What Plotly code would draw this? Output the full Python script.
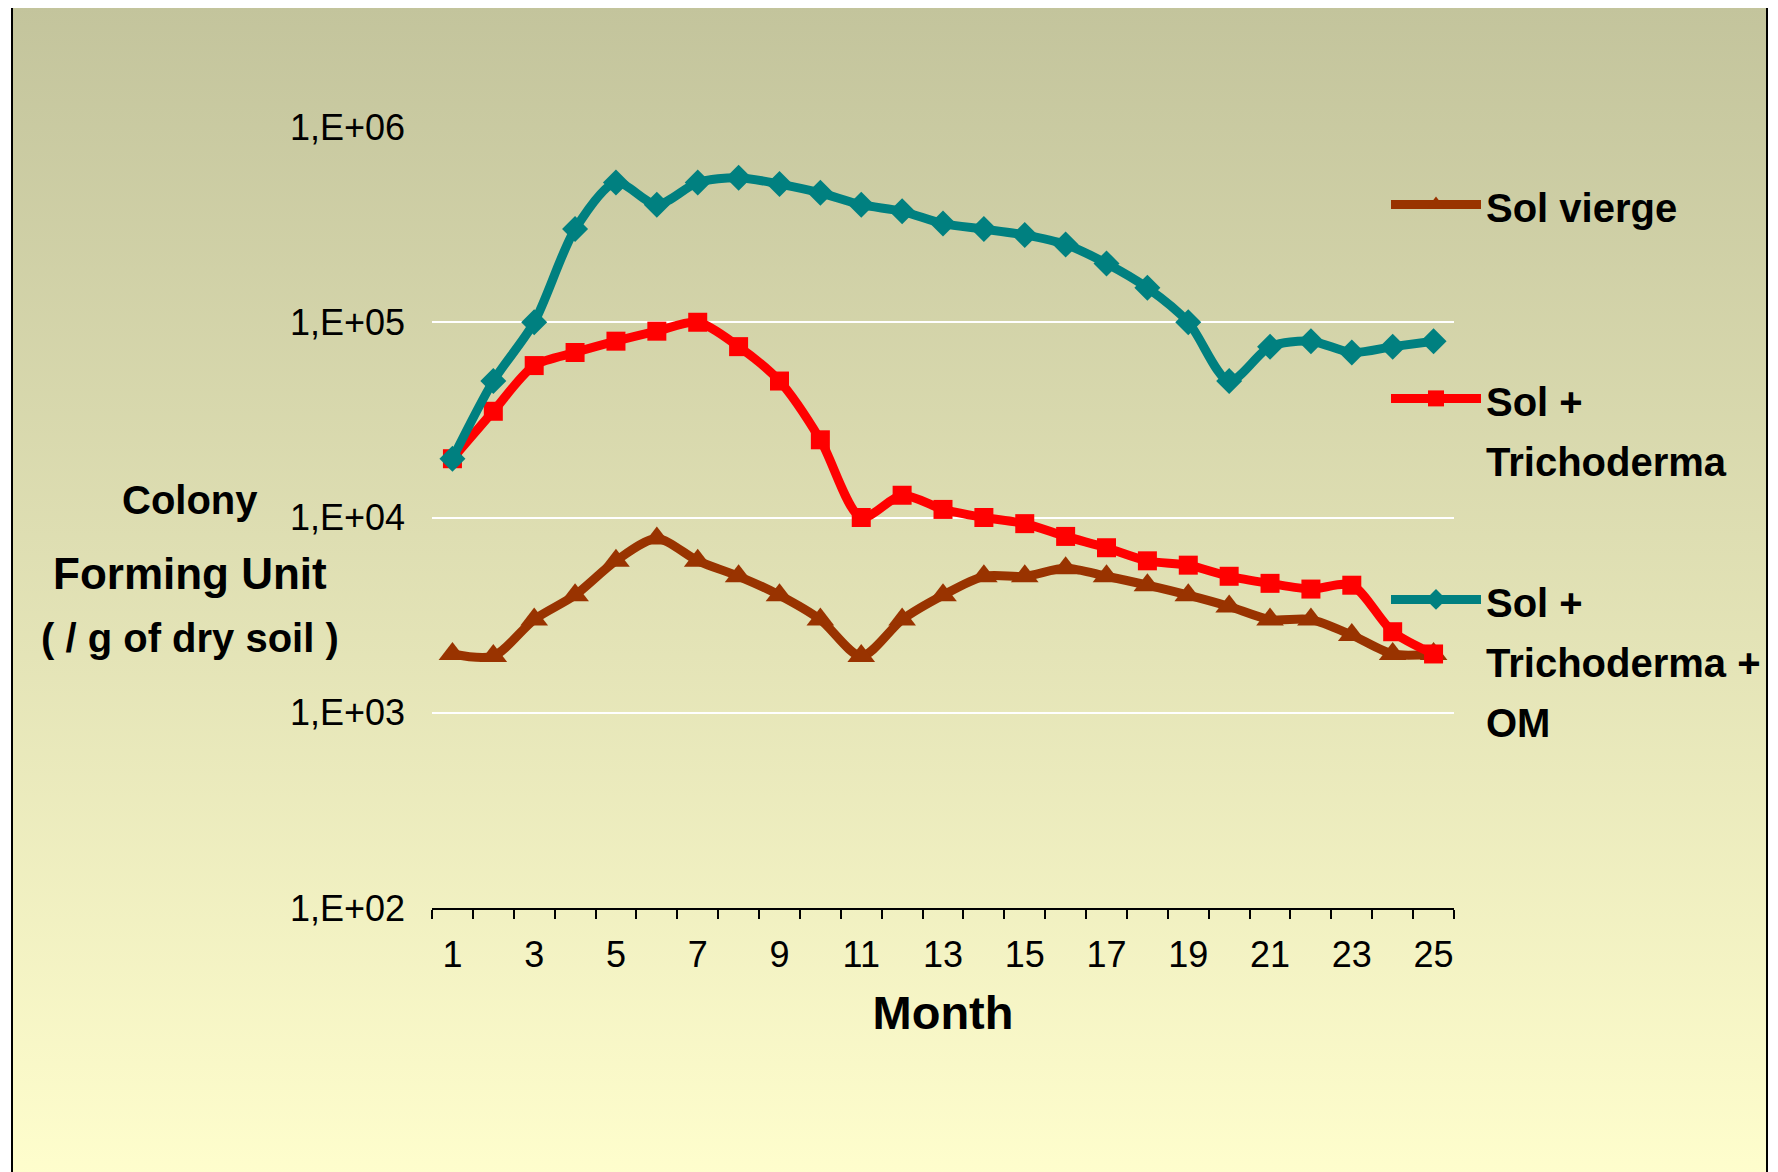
import base64
import plotly.graph_objects as go

# ---------------- data ----------------
months = list(range(1, 26))
sol_vierge = [2000, 1950, 3000, 4000, 6000, 7800, 6000, 5000, 4000, 3000, 1950, 3000, 4000,
              5000, 5000, 5500, 5000, 4500, 4000, 3500, 3000, 3000, 2500, 2000, 2000]
sol_tricho = [20000, 35000, 60000, 70000, 80000, 90000, 100000, 75000, 50000, 25000, 10000,
              13000, 11000, 10000, 9300, 8000, 7000, 6000, 5700, 5000, 4600, 4300, 4500, 2600, 2000]
sol_tricho_om = [20000, 50000, 100000, 300000, 520000, 400000, 520000, 550000, 510000, 460000,
                 400000, 370000, 320000, 300000, 280000, 250000, 200000, 150000, 100000, 50000,
                 75000, 80000, 70000, 75000, 80000]
series_names = ["Sol vierge", "Sol +<br>Trichoderma", "Sol +<br>Trichoderma +<br>OM"]
x_tick_vals = list(range(1, 26, 2))
x_tick_text = [str(v) for v in x_tick_vals]
y_tick_vals = [1e2, 1e3, 1e4, 1e5, 1e6]
y_tick_text = ["1,E+02", "1,E+03", "1,E+04", "1,E+05", "1,E+06"]

FONT = "Liberation Sans, Arial, sans-serif"

# page has an 8px body margin, so the figure is 8px smaller than the window
W, H = 1770, 1164
L, R, T, B = 424, 324, 119, 264
PW, PH = W - L - R, H - T - B
OFF = 8


def px_x(p):  # p in window (reference) pixels
    return (p - OFF - L) / PW


def px_y(p):
    return (H - B - (p - OFF)) / PH


fig = go.Figure()

styles = [
    dict(color="#993300", symbol="triangle-up", size=24, legend="legend"),
    dict(color="#FF0000", symbol="square", size=19, legend="legend2"),
    dict(color="#008080", symbol="diamond", size=20, legend="legend3"),
]
for name, vals, st in zip(series_names, [sol_vierge, sol_tricho, sol_tricho_om], styles):
    fig.add_trace(go.Scatter(
        x=months, y=vals,
        name='<span style="font-size:40px">' + name + "</span>",
        mode="lines+markers",
        line=dict(color=st["color"], width=9, shape="spline", smoothing=0.8),
        marker=dict(color=st["color"], symbol=st["symbol"], size=st["size"]),
        legend=st["legend"],
    ))

# gradient background (chart area) via inline SVG image
svg = ('<svg xmlns="http://www.w3.org/2000/svg" width="100" height="100" viewBox="0 0 100 100" '
       'preserveAspectRatio="none"><defs><linearGradient id="g" x1="0" y1="0" x2="0" y2="1">'
       '<stop offset="0" stop-color="#C3C49C"/><stop offset="1" stop-color="#FFFECD"/>'
       '</linearGradient></defs><rect width="100" height="100" fill="url(#g)"/></svg>')
src = "data:image/svg+xml;base64," + base64.b64encode(svg.encode()).decode()
fig.add_layout_image(dict(
    source=src, xref="paper", yref="paper",
    x=px_x(12), y=px_y(6), sizex=(1767 - 12) / PW, sizey=(1185 - 6) / PH,
    xanchor="left", yanchor="top", sizing="stretch", layer="below",
))
fig.add_shape(type="rect", xref="paper", yref="paper",
              x0=px_x(12), x1=px_x(1767), y0=px_y(1185), y1=px_y(6),
              line=dict(color="black", width=2), layer="below")

legend_common = dict(
    font=dict(family=FONT, size=46, color="black", weight="bold"),
    bgcolor="rgba(0,0,0,0)", borderwidth=0, xanchor="left", yanchor="top",
    valign="top", itemwidth=90,
)
fig.update_layout(
    width=W, height=H, autosize=False,
    margin=dict(l=L, r=R, t=T, b=B, pad=0),
    paper_bgcolor="white", plot_bgcolor="rgba(0,0,0,0)",
    showlegend=True,
    legend=dict(x=px_x(1386), y=px_y(168), **legend_common),
    legend2=dict(x=px_x(1386), y=px_y(362), **legend_common),
    legend3=dict(x=px_x(1386), y=px_y(563), **legend_common),
    xaxis=dict(
        range=[0.5, 25.5], tickmode="array", tickvals=x_tick_vals, ticktext=x_tick_text,
        ticks="", showline=True, linecolor="black", linewidth=2, showgrid=False,
        zeroline=False, tickfont=dict(family=FONT, size=36, color="black"),
        ticklabelstandoff=14,
        minor=dict(tickmode="linear", tick0=0.5, dtick=1, ticks="outside", ticklen=9,
                   tickcolor="black", tickwidth=1.5, showgrid=False),
        title=dict(text="Month", font=dict(family=FONT, size=47, color="black", weight="bold"),
                   standoff=22),
    ),
    yaxis=dict(
        type="log", range=[2, 6], tickmode="array", tickvals=y_tick_vals, ticktext=y_tick_text,
        ticks="", showline=False, zeroline=False, showgrid=True, gridcolor="white", gridwidth=2,
        tickfont=dict(family=FONT, size=36, color="black"), ticklabelstandoff=26,
    ),
)

for text, cy, size in [("Colony", 500, 40), ("Forming Unit", 573, 44), ("( / g of dry soil )", 638, 40)]:
    fig.add_annotation(text=text, xref="paper", yref="paper", x=px_x(190), y=px_y(cy),
                       xanchor="center", yanchor="middle", showarrow=False,
                       font=dict(family=FONT, size=size, color="black", weight="bold"))

fig.write_html("out.html")
